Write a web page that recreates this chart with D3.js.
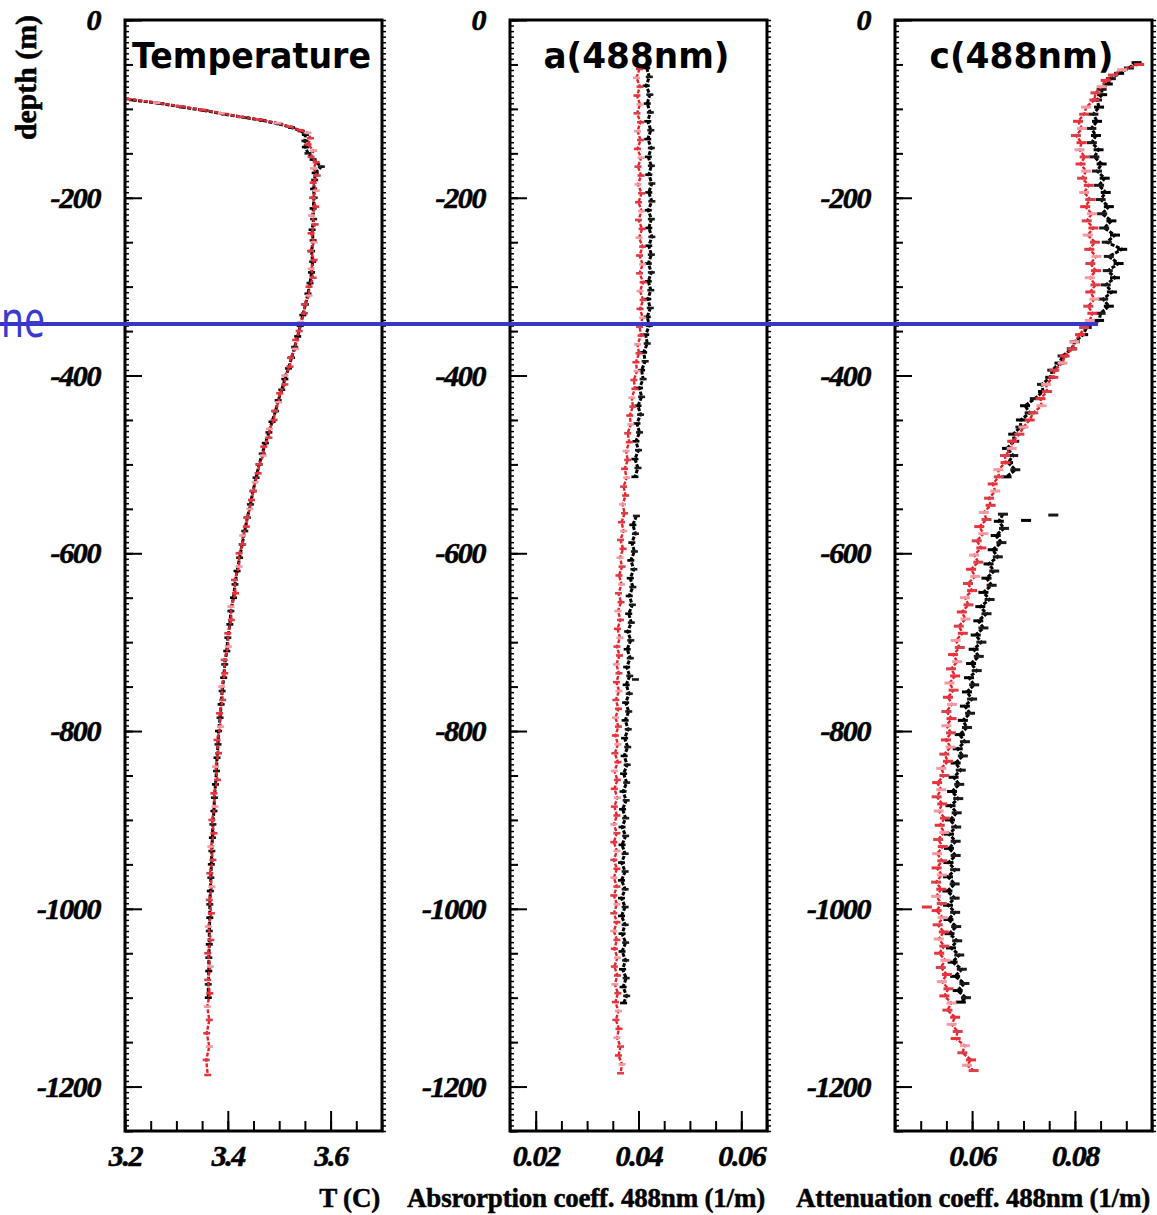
<!DOCTYPE html>
<html>
<head>
<meta charset="utf-8">
<script src="https://cdn.jsdelivr.net/npm/d3@7"></script>
<style>
  body { margin: 0; background: #fff; }
  svg { display: block; }
</style>
</head>
<body>
<svg id="chart" width="1157" height="1215"></svg>
<script>
// profiles: [depth (m, positive down), value]; null = no data
const tempRed = [[89,3.205],[93,3.262],[97,3.305],[101,3.350],[105,3.388],[109,3.425],[112,3.462],[116,3.497],[120,3.520],[124,3.541],[127,3.556],[133,3.561],[140,3.556],[147,3.567],[154,3.562],[160,3.572],[167,3.567],[175,3.574],[183,3.566],[192,3.572],[200,3.565],[210,3.571],[220,3.563],[230,3.570],[240,3.562],[250,3.568],[260,3.561],[270,3.568],[280,3.562],[290,3.566],[300,3.558],[310,3.558],[320,3.549],[330,3.549],[340,3.542],[350,3.539],[360,3.532],[370,3.532],[380,3.522],[390,3.521],[400,3.511],[410,3.511],[420,3.501],[430,3.499],[440,3.491],[450,3.490],[460,3.481],[470,3.480],[480,3.470],[490,3.469],[500,3.461],[510,3.459],[520,3.453],[530,3.450],[540,3.446],[550,3.443],[560,3.437],[570,3.436],[580,3.429],[590,3.429],[600,3.422],[615,3.422],[630,3.413],[645,3.415],[660,3.406],[675,3.407],[690,3.400],[705,3.401],[720,3.393],[735,3.394],[750,3.388],[765,3.390],[780,3.384],[795,3.386],[810,3.379],[825,3.382],[840,3.376],[855,3.380],[870,3.373],[885,3.375],[900,3.369],[915,3.373],[930,3.367],[945,3.371],[960,3.365],[975,3.369],[990,3.364],[1005,3.368],[1020,3.362],[1035,3.367],[1050,3.361],[1065,3.366],[1080,3.361],[1095,3.365],[1110,3.360],[1125,3.364],[1140,3.359],[1155,3.364],[1170,3.358],[1187,3.361]];
const tempBlack = [[90,3.215],[94,3.270],[98,3.312],[102,3.356],[106,3.394],[110,3.436],[113,3.468],[117,3.500],[121,3.524],[125,3.543],[129,3.551],[136,3.550],[143,3.551],[150,3.556],[157,3.566],[165,3.582],[172,3.570],[180,3.569],[190,3.567],[200,3.568],[212,3.566],[224,3.567],[236,3.564],[248,3.566],[260,3.563],[272,3.565],[284,3.563],[296,3.560],[308,3.556],[320,3.551],[332,3.546],[344,3.541],[356,3.536],[368,3.530],[380,3.524],[392,3.518],[404,3.511],[416,3.505],[428,3.498],[440,3.493],[452,3.486],[464,3.480],[476,3.473],[488,3.467],[500,3.461],[515,3.455],[530,3.449],[545,3.444],[560,3.438],[575,3.433],[590,3.428],[605,3.423],[620,3.418],[635,3.414],[650,3.411],[665,3.406],[680,3.404],[695,3.400],[710,3.398],[725,3.394],[740,3.392],[755,3.389],[770,3.387],[785,3.385],[800,3.382],[815,3.381],[830,3.379],[845,3.378],[860,3.376],[875,3.374],[890,3.373],[905,3.371],[920,3.370],[935,3.369],[950,3.368],[965,3.367],[980,3.366],[995,3.365],[1010,3.365],[1025,3.364],[1040,3.364],[1055,3.363],[1070,3.363],[1085,3.362],[1100,3.362]];

const absRed = [[55,0.0402],[65,0.0396],[75,0.0403],[85,0.0397],[95,0.0403],[105,0.0397],[115,0.0404],[125,0.0398],[135,0.0404],[145,0.0398],[155,0.0405],[165,0.0399],[175,0.0405],[185,0.0399],[195,0.0406],[205,0.0400],[215,0.0406],[225,0.0400],[235,0.0407],[245,0.0401],[255,0.0408],[265,0.0402],[275,0.0408],[285,0.0402],[295,0.0409],[305,0.0403],[315,0.0409],[325,0.0403],[335,0.0408],[345,0.0402],[355,0.0405],[365,0.0398],[375,0.0401],[385,0.0395],[395,0.0397],[405,0.0391],[415,0.0393],[425,0.0387],[435,0.0389],[445,0.0383],[455,0.0385],[465,0.0379],[475,0.0382],[485,0.0376],[495,0.0379],[505,0.0373],[515,0.0377],[525,0.0371],[535,0.0375],[545,0.0369],[555,0.0373],[565,0.0367],[575,0.0371],[585,0.0365],[595,0.0370],[605,0.0364],[615,0.0368],[625,0.0362],[635,0.0367],[645,0.0361],[655,0.0366],[665,0.0360],[675,0.0365],[685,0.0359],[695,0.0364],[705,0.0358],[715,0.0363],[725,0.0357],[735,0.0362],[745,0.0357],[755,0.0362],[765,0.0356],[775,0.0361],[785,0.0355],[795,0.0361],[805,0.0355],[815,0.0360],[825,0.0354],[835,0.0360],[845,0.0353],[855,0.0359],[865,0.0353],[875,0.0359],[885,0.0353],[895,0.0358],[905,0.0352],[915,0.0358],[925,0.0352],[935,0.0358],[945,0.0352],[955,0.0358],[965,0.0352],[975,0.0358],[985,0.0352],[995,0.0358],[1005,0.0352],[1015,0.0358],[1025,0.0352],[1035,0.0358],[1045,0.0353],[1055,0.0359],[1065,0.0353],[1075,0.0359],[1085,0.0354],[1095,0.0360],[1105,0.0355],[1115,0.0361],[1125,0.0356],[1135,0.0362],[1145,0.0358],[1155,0.0365],[1165,0.0361],[1175,0.0368],[1185,0.0365]];
const absBlack = [[54,0.0416],[64,0.0421],[74,0.0415],[84,0.0422],[94,0.0417],[104,0.0423],[114,0.0418],[124,0.0424],[134,0.0418],[144,0.0425],[154,0.0419],[164,0.0425],[174,0.0420],[184,0.0426],[194,0.0420],[204,0.0426],[214,0.0419],[224,0.0425],[234,0.0420],[244,0.0426],[254,0.0420],[264,0.0425],[274,0.0419],[284,0.0425],[294,0.0419],[304,0.0424],[314,0.0418],[324,0.0423],[334,0.0417],[344,0.0421],[354,0.0414],[364,0.0417],[374,0.0410],[384,0.0413],[394,0.0406],[404,0.0409],[414,0.0402],[424,0.0406],[434,0.0399],[444,0.0404],[454,0.0397],[464,0.0402],[474,0.0395],[484,0.0400],[494,0.0393],[504,0.0399],[514,0.0393],[520,null],[552,null],[558,0.0396],[568,0.0389],[578,0.0394],[588,0.0387],[598,0.0392],[608,0.0385],[618,0.0391],[628,0.0384],[638,0.0389],[648,0.0382],[658,0.0388],[668,0.0381],[678,0.0386],[688,0.0379],[698,0.0385],[708,0.0378],[718,0.0384],[728,0.0377],[738,0.0383],[748,0.0376],[758,0.0382],[768,0.0375],[778,0.0381],[788,0.0374],[798,0.0380],[808,0.0373],[818,0.0379],[828,0.0372],[838,0.0378],[848,0.0371],[858,0.0377],[868,0.0370],[878,0.0376],[888,0.0369],[898,0.0375],[908,0.0368],[918,0.0375],[928,0.0368],[938,0.0374],[948,0.0367],[958,0.0374],[968,0.0367],[978,0.0374],[988,0.0367],[998,0.0374],[1008,0.0367],[1018,0.0374],[1028,0.0368],[1038,0.0375],[1048,0.0368],[1058,0.0375],[1068,0.0369],[1078,0.0376],[1088,0.0370],[1098,0.0377],[1106,0.0371]];
const absBlackStray = [[742,0.0394]];

const attRed = [[50,0.0925],[56,0.0892],[62,0.0874],[68,0.0860],[75,0.0852],[82,0.0840],[90,0.0838],[98,0.0822],[106,0.0818],[114,0.0806],[122,0.0814],[130,0.0802],[138,0.0813],[146,0.0809],[154,0.0819],[162,0.0811],[170,0.0822],[178,0.0814],[186,0.0827],[194,0.0818],[202,0.0830],[210,0.0820],[218,0.0833],[226,0.0823],[234,0.0836],[242,0.0825],[250,0.0839],[258,0.0828],[266,0.0842],[274,0.0830],[282,0.0841],[290,0.0829],[298,0.0840],[306,0.0830],[314,0.0838],[322,0.0826],[330,0.0834],[338,0.0829],[346,0.0818],[354,0.0810],[362,0.0799],[370,0.0795],[378,0.0780],[386,0.0776],[394,0.0760],[402,0.0758],[410,0.0744],[418,0.0746],[426,0.0733],[434,0.0735],[442,0.0719],[450,0.0712],[458,0.0700],[466,0.0692],[474,0.0678],[482,0.0677],[490,0.0664],[498,0.0665],[506,0.0651],[514,0.0652],[522,0.0640],[530,0.0645],[538,0.0633],[546,0.0636],[554,0.0623],[562,0.0628],[570,0.0614],[578,0.0622],[586,0.0609],[594,0.0618],[602,0.0604],[610,0.0612],[618,0.0598],[626,0.0606],[634,0.0592],[642,0.0600],[650,0.0586],[658,0.0593],[666,0.0580],[674,0.0587],[682,0.0574],[690,0.0582],[698,0.0568],[706,0.0576],[714,0.0563],[722,0.0571],[730,0.0559],[738,0.0567],[746,0.0556],[754,0.0564],[762,0.0553],[770,0.0561],[778,0.0550],[786,0.0560],[794,0.0550],[802,0.0559],[810,0.0549],[818,0.0558],[826,0.0546],[834,0.0553],[842,0.0540],[850,0.0546],[858,0.0532],[866,0.0540],[874,0.0531],[882,0.0542],[890,0.0535],[898,0.0547],[906,0.0537],[914,0.0546],[922,0.0534],[930,0.0543],[938,0.0532],[946,0.0542],[954,0.0531],[962,0.0541],[970,0.0530],[978,0.0540],[986,0.0530],[994,0.0541],[1002,0.0531],[1010,0.0543],[1018,0.0533],[1026,0.0545],[1034,0.0535],[1042,0.0546],[1050,0.0536],[1058,0.0548],[1066,0.0539],[1074,0.0551],[1082,0.0541],[1090,0.0554],[1098,0.0546],[1106,0.0560],[1114,0.0552],[1122,0.0567],[1130,0.0560],[1138,0.0572],[1146,0.0568],[1154,0.0586],[1162,0.0581],[1170,0.0598],[1176,0.0590],[1182,0.0603]];
const attBlack = [[48,0.0920],[54,0.0905],[60,0.0886],[66,0.0870],[72,0.0864],[78,0.0852],[84,0.0853],[90,0.0843],[98,0.0847],[106,0.0836],[114,0.0843],[122,0.0832],[130,0.0841],[138,0.0833],[146,0.0846],[154,0.0838],[162,0.0852],[170,0.0843],[178,0.0858],[186,0.0847],[194,0.0860],[202,0.0850],[210,0.0866],[218,0.0853],[226,0.0871],[234,0.0857],[242,0.0878],[250,0.0862],[258,0.0892],[266,0.0866],[274,0.0885],[282,0.0864],[290,0.0878],[298,0.0860],[306,0.0872],[314,0.0855],[322,0.0866],[330,0.0850],[338,0.0847],[346,0.0823],[354,0.0816],[362,0.0800],[370,0.0794],[378,0.0776],[386,0.0770],[394,0.0756],[402,0.0752],[410,0.0736],[418,0.0738],[426,0.0722],[434,0.0703],[442,0.0712],[450,0.0695],[458,0.0694],[466,0.0680],[474,0.0682],[482,0.0668],[490,0.0680],[498,0.0670],[506,0.0684],[514,0.0667],[522,null],[550,null],[556,0.0660],[564,0.0652],[572,0.0662],[580,0.0646],[588,0.0657],[596,0.0640],[604,0.0650],[612,0.0632],[620,0.0643],[628,0.0628],[636,0.0638],[644,0.0622],[652,0.0634],[660,0.0616],[668,0.0628],[676,0.0612],[684,0.0622],[692,0.0607],[700,0.0618],[708,0.0603],[716,0.0613],[724,0.0598],[732,0.0609],[740,0.0594],[748,0.0604],[756,0.0590],[764,0.0600],[772,0.0586],[780,0.0596],[788,0.0582],[796,0.0590],[804,0.0576],[812,0.0586],[820,0.0572],[828,0.0582],[836,0.0568],[844,0.0578],[852,0.0564],[860,0.0575],[868,0.0561],[876,0.0573],[884,0.0558],[892,0.0570],[900,0.0557],[908,0.0569],[916,0.0555],[924,0.0568],[932,0.0555],[940,0.0568],[948,0.0554],[956,0.0567],[964,0.0553],[972,0.0566],[980,0.0552],[988,0.0566],[996,0.0553],[1004,0.0567],[1012,0.0554],[1020,0.0569],[1028,0.0556],[1036,0.0571],[1044,0.0559],[1052,0.0575],[1060,0.0562],[1068,0.0580],[1076,0.0567],[1084,0.0585],[1092,0.0572],[1100,0.0588],[1105,0.0578]];
const attBlackStray = [[557,0.0758],[563,0.0705]];
const attRedStray = [[998,0.0512]];

const depthTicks = [0, -200, -400, -600, -800, -1000, -1200];
const tempTicks = [3.2, 3.4, 3.6];
const absTicks = [0.02, 0.04, 0.06];
const attTicks = [0.06, 0.08];
const titles = ["Temperature", "a(488nm)", "c(488nm)"];
const axisTitles = ["T (C)", "Absrorption coeff. 488nm (1/m)", "Attenuation coeff. 488nm (1/m)"];
const markDepth = 342;      // blue reference line
const markEndValue = 0.0845; // where it stops in the c panel

const svg = d3.select("#chart");
const W = 1157, plotTop = 20, plotBottom = 1131, pw = 257;
const serif = "'Liberation Serif','Times New Roman',serif";

svg.append("rect").attr("width", W).attr("height", 1215).attr("fill", "#fff");

const y = d3.scaleLinear().domain([0, -1250]).range([plotTop, plotBottom]);

const panels = [
  { left: 125, domain: [3.2, 3.7], ticks: tempTicks, fmt: d3.format(".1f"),
    black: tempBlack, red: tempRed, blackStray: [], redStray: [],
    markW: 7, markH: 2.6, titleW: 239 },
  { left: 510, domain: [0.015, 0.065], ticks: absTicks, fmt: d3.format(".2f"),
    black: absBlack, red: absRed, blackStray: absBlackStray, redStray: [],
    markW: 7, markH: 2.6, titleW: 186 },
  { left: 895, domain: [0.045, 0.095], ticks: attTicks, fmt: d3.format(".2f"),
    black: attBlack, red: attRed, blackStray: attBlackStray, redStray: attRedStray,
    markW: 10, markH: 3, titleW: 184 }
];

const minorY = d3.range(0, -1250.01, -6.25);
const midY = d3.range(0, -1250.01, -50);

const labelStyle = a => a.selectAll("text").attr("font-family", serif).attr("font-size", 30)
  .attr("font-weight", "bold").attr("font-style", "italic").attr("letter-spacing", -1.4)
  .attr("fill", "#000").attr("stroke", "#000").attr("stroke-width", 0.6);

panels.forEach((p, i) => {
  const x = d3.scaleLinear().domain(p.domain).range([p.left, p.left + pw]);
  p.x = x;
  const g = svg.append("g");

  // y axis: labels + ticks (inward)
  g.append("g").attr("transform", `translate(${p.left},0)`)
    .call(d3.axisLeft(y).tickValues(depthTicks).tickSize(-17).tickPadding(25)
      .tickFormat(d => String(d)))
    .call(a => a.select(".domain").remove())
    .call(a => a.selectAll("line").attr("stroke-width", 2))
    .call(labelStyle);
  g.append("g").attr("transform", `translate(${p.left},0)`)
    .call(d3.axisLeft(y).tickValues(midY).tickSize(-8).tickFormat(""))
    .call(a => a.select(".domain").remove())
    .call(a => a.selectAll("line").attr("stroke-width", 2));
  g.append("g").attr("transform", `translate(${p.left},0)`)
    .call(d3.axisLeft(y).tickValues(minorY).tickSize(-4).tickFormat(""))
    .call(a => a.select(".domain").remove())
    .call(a => a.selectAll("line").attr("stroke-width", 1.5));
  g.append("g").attr("transform", `translate(${p.left + pw},0)`)
    .call(d3.axisRight(y).tickValues(minorY).tickSize(4).tickFormat(""))
    .call(a => a.select(".domain").remove())
    .call(a => a.selectAll("line").attr("stroke-width", 1.5));

  // x axis: ticks point up into the frame
  g.append("g").attr("transform", `translate(0,${plotBottom})`)
    .call(d3.axisBottom(x).tickValues(p.ticks).tickSize(-20).tickPadding(14).tickFormat(p.fmt))
    .call(a => a.select(".domain").remove())
    .call(a => a.selectAll("line").attr("stroke-width", 2))
    .call(labelStyle);
  g.append("g").attr("transform", `translate(0,${plotBottom})`)
    .call(d3.axisBottom(x).ticks(10).tickSize(-10).tickFormat(""))
    .call(a => a.select(".domain").remove())
    .call(a => a.selectAll("line").attr("stroke-width", 2));

  // profiles
  const line = d3.line().defined(d => d[1] != null)
    .x(d => x(d[1])).y(d => y(-d[0]));
  const drawSeries = (data, stray, col, marks, w) => {
    g.append("path").datum(data).attr("d", line).attr("fill", "none")
      .attr("stroke", col).attr("stroke-width", w).attr("stroke-dasharray", "4,1.5");
    g.append("g").selectAll("rect").data(data.filter(d => d[1] != null).concat(stray))
      .join("rect")
      .attr("x", d => x(d[1]) - p.markW / 2).attr("y", d => y(-d[0]) - p.markH / 2)
      .attr("width", p.markW).attr("height", p.markH)
      .attr("fill", (d, k) => marks[k % marks.length]);
  };
  drawSeries(p.black, p.blackStray, "#000", ["#000", "#1a1a1a"], 3);
  drawSeries(p.red, p.redStray, "#e3232e", ["#e8323c", "#f29aa0", "#d9414a"], 2.4);

  // frame
  g.append("rect").attr("x", p.left).attr("y", plotTop).attr("width", pw).attr("height", plotBottom - plotTop)
    .attr("fill", "none").attr("stroke", "#000").attr("stroke-width", 3);

  // titles
  g.append("text").attr("x", p.left + pw / 2 - 2).attr("y", 68).attr("text-anchor", "middle")
    .attr("font-family", "'DejaVu Sans',Verdana,sans-serif").attr("font-weight", "bold")
    .attr("font-size", 35).attr("textLength", p.titleW).attr("lengthAdjust", "spacingAndGlyphs")
    .text(titles[i]);
  g.append("text").attr("x", p.left + pw - 2).attr("y", 1207).attr("text-anchor", "end")
    .attr("font-family", serif).attr("font-weight", "bold").attr("font-size", 27)
    .attr("letter-spacing", -0.2).attr("stroke", "#000").attr("stroke-width", 0.5)
    .text(axisTitles[i]);
});

// depth axis title
svg.append("text").attr("transform", "translate(36,15) rotate(-90)")
  .attr("text-anchor", "end").attr("font-family", serif).attr("font-weight", "bold")
  .attr("font-size", 29).attr("stroke", "#000").attr("stroke-width", 0.5)
  .attr("textLength", 125).attr("lengthAdjust", "spacingAndGlyphs")
  .text("depth (m)");

// blue reference line across the panels
svg.append("line").attr("x1", 0).attr("x2", panels[2].x(markEndValue))
  .attr("y1", y(-markDepth)).attr("y2", y(-markDepth))
  .attr("stroke", "#3636c8").attr("stroke-width", 4);
svg.append("text").attr("x", 1).attr("y", 337)
  .attr("font-family", "'Noto Sans',sans-serif").attr("font-size", 50)
  .attr("textLength", 44).attr("lengthAdjust", "spacingAndGlyphs")
  .attr("fill", "#3a3ad0").text("ne");
</script>
</body>
</html>
